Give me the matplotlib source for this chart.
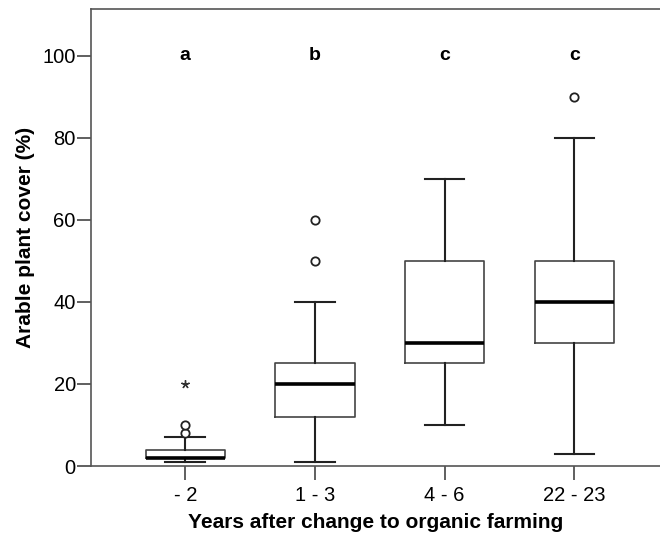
import matplotlib.pyplot as plt

plt.rcParams['font.family'] = ['Liberation Sans', 'DejaVu Sans']

groups = ["- 2", "1 - 3", "4 - 6", "22 - 23"]
letters = ["a", "b", "c", "c"]
# whisker low, Q1, median, Q3, whisker high
lo = [1, 1, 10, 3]
q1 = [2, 12, 25, 30]
med = [2, 20, 30, 40]
q3 = [4, 25, 50, 50]
hi = [7, 40, 70, 80]
outliers = [[8, 10], [50, 60], [], [90]]
extremes = [[20], [], [], []]

stats = []
for i in range(len(groups)):
    stats.append({"whislo": lo[i], "q1": q1[i], "med": med[i], "q3": q3[i],
                  "whishi": hi[i], "fliers": outliers[i], "label": groups[i]})

fig = plt.figure(figsize=(6.6, 5.37), dpi=100)
ax = fig.add_axes([0.138, 0.132, 0.862, 0.851])

pos = [1, 2, 3, 4]
ax.bxp(stats, positions=pos, widths=0.61, showfliers=True,
       boxprops=dict(color="#444444", linewidth=1.2),
       whiskerprops=dict(color="#222222", linewidth=1.5),
       capprops=dict(color="#222222", linewidth=1.5),
       medianprops=dict(color="black", linewidth=2.6),
       flierprops=dict(marker="o", markersize=6, markerfacecolor="white",
                       markeredgecolor="#222222", markeredgewidth=1.3))
# extreme values drawn as asterisks
for i, ex in enumerate(extremes):
    if ex:
        ax.plot([pos[i]] * len(ex), ex, linestyle="none", marker=(5, 2, 0),
                markersize=6, markeredgewidth=1.0, color="#333333")

for i, t in enumerate(letters):
    ax.text(pos[i], 100, t, ha="center", va="center", fontsize=14, fontweight="bold")

ax.set_xlim(0.274, 4.66)
ax.set_ylim(0, 111.3)
ax.set_yticks([0, 20, 40, 60, 80, 100])
ax.set_xticks(pos)
ax.set_xticklabels(groups)
ax.tick_params(axis="both", length=10, width=1.2, color="#444444", labelsize=14.5, pad=1)
ax.tick_params(axis="x", pad=4)
for s in ["left", "top", "bottom"]:
    ax.spines[s].set_color("#555555")
    ax.spines[s].set_linewidth(1.2)
ax.spines["right"].set_visible(False)

ax.set_xlabel("Years after change to organic farming", fontsize=15, fontweight="bold", labelpad=6)
ax.set_ylabel("Arable plant cover (%)", fontsize=15, fontweight="bold", labelpad=5)

fig.savefig("out.png", dpi=100)
